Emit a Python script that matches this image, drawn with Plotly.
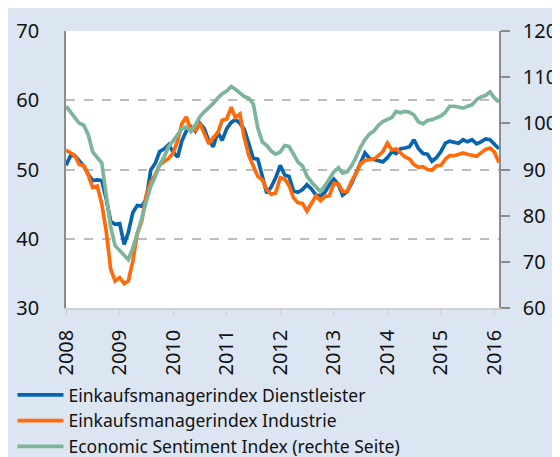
import pandas as pd
import plotly.graph_objects as go

# Monthly data, Jan 2008 - Feb 2016
start_month = "2008-01-01"

services_pmi = [
    50.6, 52.0, 52.0, 51.2, 50.5, 49.3, 48.4, 48.5, 48.4, 45.8, 42.5, 42.1,   # 2008
    42.2, 39.2, 40.9, 43.8, 44.8, 44.7, 45.7, 49.9, 50.9, 52.6, 53.0, 53.6,   # 2009
    52.5, 51.8, 54.1, 55.6, 56.2, 55.5, 56.7, 55.9, 54.1, 53.3, 55.4, 54.2,   # 2010
    55.9, 56.8, 57.2, 56.7, 55.8, 53.7, 51.6, 51.5, 49.0, 46.6, 47.5, 48.8,   # 2011
    50.6, 49.2, 49.0, 46.9, 46.7, 47.1, 47.8, 47.2, 46.3, 46.2, 46.7, 47.8,   # 2012
    48.6, 47.8, 46.3, 46.8, 48.0, 49.5, 51.2, 52.4, 51.6, 51.4, 51.2, 51.1,   # 2013
    51.7, 52.6, 52.3, 53.0, 53.1, 53.3, 54.3, 53.0, 52.3, 52.2, 51.2, 51.7,   # 2014
    52.6, 53.8, 54.1, 54.0, 53.8, 54.3, 54.0, 54.3, 53.7, 54.0, 54.4, 54.3,   # 2015
    53.6, 53.0,                                                               # 2016
]

manufacturing_pmi = [
    52.8, 52.3, 52.0, 50.7, 50.6, 49.2, 47.4, 47.6, 45.0, 41.1, 35.6, 33.9,   # 2008
    34.4, 33.5, 33.9, 36.8, 40.7, 42.6, 46.3, 48.2, 49.3, 50.7, 51.2, 51.6,   # 2009
    52.4, 54.2, 56.6, 57.6, 55.8, 55.6, 56.7, 55.1, 53.7, 54.6, 55.3, 57.1,   # 2010
    57.3, 59.0, 57.5, 58.0, 54.6, 52.0, 50.4, 49.0, 48.5, 47.1, 46.4, 46.6,   # 2011
    48.8, 48.6, 47.7, 45.9, 45.2, 45.1, 44.0, 45.2, 46.2, 45.5, 46.1, 46.2,   # 2012
    48.0, 47.9, 46.8, 46.8, 48.3, 49.4, 50.8, 51.3, 51.4, 51.5, 52.0, 52.6,   # 2013
    53.8, 52.8, 53.0, 52.4, 51.8, 51.5, 50.7, 50.3, 50.4, 50.0, 49.9, 50.5,   # 2014
    50.6, 51.5, 52.0, 52.0, 52.2, 52.4, 52.2, 52.0, 51.9, 52.4, 52.9, 53.1,   # 2015
    52.5, 51.0,                                                               # 2016
]

economic_sentiment = [
    103.7, 102.5, 101.3, 100.0, 99.6, 97.5, 93.8, 92.6, 91.4, 84.5, 77.5, 73.5,      # 2008
    72.5, 71.5, 70.5, 73.0, 76.0, 79.5, 83.0, 86.3, 88.5, 91.0, 92.8, 95.0,          # 2009
    96.2, 97.5, 98.8, 99.2, 98.2, 99.6, 101.4, 102.5, 103.4, 104.3, 105.5, 106.4,    # 2010
    107.0, 108.0, 107.4, 106.5, 105.8, 105.4, 104.2, 99.0, 96.0, 95.2, 94.0, 93.3,   # 2011
    93.8, 95.2, 95.0, 93.3, 91.6, 90.8, 88.6, 87.3, 86.2, 85.2, 86.5, 87.9,          # 2012
    89.5, 90.4, 89.2, 89.5, 90.8, 92.6, 94.8, 96.5, 97.7, 98.3, 99.6, 100.4,         # 2013
    100.8, 101.3, 102.6, 102.3, 102.6, 102.4, 101.8, 100.3, 99.9, 100.6, 100.8, 101.1,  # 2014
    101.6, 102.4, 103.7, 103.7, 103.6, 103.3, 103.7, 104.0, 105.1, 105.7, 106.0, 106.8,  # 2015
    105.5, 104.6,                                                                     # 2016
]

year_ticks = ["2008", "2009", "2010", "2011", "2012", "2013", "2014", "2015", "2016"]

series_names = [
    "Einkaufsmanagerindex Dienstleister",
    "Einkaufsmanagerindex Industrie",
    "Economic Sentiment Index (rechte Seite)",
]

dates = pd.date_range(start_month, periods=len(services_pmi), freq="MS")

BLUE = "#0864ae"
ORANGE = "#ff6a0b"
GREEN = "#7db59b"
BG = "#dce6f2"
FONT = "Noto Sans"

fig = go.Figure()
fig.add_trace(go.Scatter(x=dates, y=services_pmi, name=series_names[0], mode="lines",
                         line=dict(color=BLUE, width=3.7)))
fig.add_trace(go.Scatter(x=dates, y=manufacturing_pmi, name=series_names[1], mode="lines",
                         line=dict(color=ORANGE, width=3.7)))
fig.add_trace(go.Scatter(x=dates, y=economic_sentiment, name=series_names[2], mode="lines",
                         line=dict(color=GREEN, width=3.7), yaxis="y2"))

tickvals = [pd.Timestamp(f"{y}-01-01") for y in year_ticks]

fig.update_layout(
    width=560, height=457,
    paper_bgcolor=BG, plot_bgcolor="white",
    margin=dict(l=58, r=69, t=23, b=157, autoexpand=False),
    font=dict(family=FONT, size=20, color="#111111"),
    showlegend=True,
    legend=dict(
        xref="container", yref="container",
        x=0.008, y=1 - 369 / 457, xanchor="left", yanchor="top",
        bgcolor="rgba(0,0,0,0)", font=dict(size=17.5, color="#111111"),
        tracegroupgap=0, itemwidth=46,
    ),
    xaxis=dict(
        type="date",
        range=[dates[0], dates[-1]],
        tickvals=tickvals, ticktext=year_ticks,
        tickangle=-90,
        ticks="outside", ticklen=5, tickcolor="#d0d0d0", tickwidth=1,
        showline=True, linecolor="#d0d0d0", linewidth=1.5,
        showgrid=False, zeroline=False,
        ticklabelstandoff=7,
        tickfont=dict(size=20),
    ),
    yaxis=dict(
        range=[30, 70], dtick=10, tick0=30,
        showgrid=True, gridcolor="#bdbdbd", griddash="dash", gridwidth=1.5,
        showline=True, linecolor="#8c8c8c", linewidth=1.5,
        ticks="", zeroline=False,
        ticklabelstandoff=21,
        tickfont=dict(size=20),
    ),
    yaxis2=dict(
        range=[60, 120], dtick=10, tick0=60,
        overlaying="y", side="right",
        showgrid=False, zeroline=False,
        showline=True, linecolor="#8c8c8c", linewidth=1.5,
        ticks="outside", ticklen=9, tickcolor="#8c8c8c", tickwidth=1.5,
        ticklabelstandoff=9,
        tickfont=dict(size=20),
    ),
)

fig.write_html("out.html")
